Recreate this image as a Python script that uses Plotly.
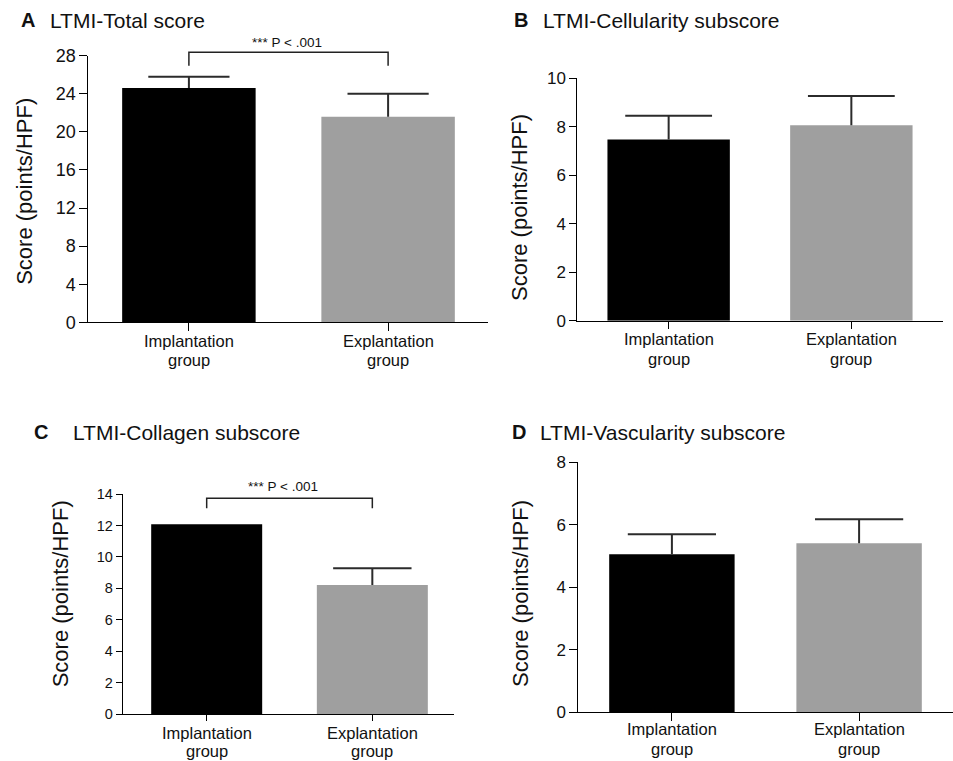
import plotly.graph_objects as go

W, H = 953, 761

# ---------------- data ----------------
groups = ["Implantation", "Explantation"]
group_line2 = ["group", "group"]
bar_colors = ["#000000", "#9f9f9f"]

total_mean = [24.6, 21.6]
total_err = [1.2, 2.4]

cell_mean = [7.48, 8.06]
cell_err = [0.98, 1.21]

coll_mean = [12.07, 8.21]
coll_err = [None, 1.06]

vasc_mean = [5.06, 5.41]
vasc_err = [0.64, 0.77]

panel_letters = ["A", "B", "C", "D"]
panel_titles = ["LTMI-Total score", "LTMI-Cellularity subscore",
                "LTMI-Collagen subscore", "LTMI-Vascularity subscore"]
y_title = "Score (points/HPF)"
sig_text = "*** P < .001"

y_max = [28, 10, 14, 8]
y_dtick = [4, 2, 2, 2]

FONT = "Arial, Liberation Sans, sans-serif"
TXT = "#111111"
ERR_COLOR = "#2b2b2b"


def px_x(p):
    return p / W


def px_y(p):
    return 1 - p / H


# layout geometry (pixels)
panels = [
    dict(mean=total_mean, err=total_err, xd=(88.3, 487.7), yd=(322.3, 55.7),
         xr=[-0.505, 1.5], ticklen=8, tfs=18, cap=58,
         letter=(20, 20.3), title=(49, 20.3), ytitle=(24.5, 191.3),
         cat=(340.5, 360.4)),
    dict(mean=cell_mean, err=cell_err, xd=(577.3, 942.7), yd=(320.7, 78.3),
         xr=[-0.5, 1.5], ticklen=7, tfs=17, cap=62,
         letter=(513.3, 20.3), title=(541.7, 20.3), ytitle=(519.5, 207.5),
         cat=(339.0, 358.9)),
    dict(mean=coll_mean, err=coll_err, xd=(122.7, 454), yd=(714, 494),
         xr=[-0.507, 1.493], ticklen=6, tfs=14.5, cap=56,
         letter=(33.3, 432.2), title=(71.7, 432.2), ytitle=(60, 593.3),
         cat=(732.5, 750.5)),
    dict(mean=vasc_mean, err=vasc_err, xd=(578.3, 952.7), yd=(712.3, 462.3),
         xr=[-0.5, 1.5], ticklen=8, tfs=17, cap=63,
         letter=(510.7, 432.2), title=(539.3, 432.2), ytitle=(520, 594),
         cat=(729.0, 748.6)),
]

fig = go.Figure()
layout = dict(
    width=W, height=H,
    margin=dict(l=0, r=0, t=0, b=0, pad=0, autoexpand=False),
    paper_bgcolor="white", plot_bgcolor="white", showlegend=False,
    font=dict(family=FONT, color=TXT),
    barmode="overlay",
)
annotations = []
shapes = []

for i, p in enumerate(panels):
    n = "" if i == 0 else str(i + 1)
    xa, ya = "x" + n, "y" + n
    means, errs = p["mean"], p["err"]
    fig.add_trace(go.Bar(
        x=[0, 1], y=means, xaxis=xa, yaxis=ya,
        width=0.67, marker=dict(color=bar_colors, line=dict(width=0)),
        hoverinfo="skip",
    ))
    # upper-only error bars: cap marker at mean+err, stem down to the bar top
    tops = [m + e if e is not None else None for m, e in zip(means, errs)]
    fig.add_trace(go.Scatter(
        x=[0, 1], y=tops, xaxis=xa, yaxis=ya, mode="markers",
        marker=dict(symbol="line-ew", size=p["cap"],
                    line=dict(color=ERR_COLOR, width=2)),
        error_y=dict(type="data", symmetric=False,
                     array=[0 if e is not None else None for e in errs],
                     arrayminus=list(errs), color=ERR_COLOR, thickness=2,
                     width=0),
        cliponaxis=False, hoverinfo="skip",
    ))
    layout["xaxis" + n] = dict(
        domain=[px_x(p["xd"][0]), px_x(p["xd"][1])], anchor=ya,
        range=p["xr"], showline=True, linecolor="black", linewidth=1,
        ticks="outside", ticklen=p["ticklen"], tickcolor="black", tickwidth=1,
        tickvals=[0, 1], showticklabels=False, showgrid=False, zeroline=False,
        fixedrange=True, automargin=False,
    )
    layout["yaxis" + n] = dict(
        domain=[px_y(p["yd"][0]), px_y(p["yd"][1])], anchor=xa,
        range=[0, y_max[i]], dtick=y_dtick[i], tick0=0,
        showline=True, linecolor="black", linewidth=1,
        ticks="outside", ticklen=p["ticklen"], tickcolor="black", tickwidth=1,
        tickfont=dict(size=p["tfs"], family=FONT, color=TXT),
        showgrid=False, zeroline=False, fixedrange=True, automargin=False,
    )
    # panel letter + title
    annotations.append(dict(
        text="<b>%s</b>" % panel_letters[i], xref="paper", yref="paper",
        x=px_x(p["letter"][0]), y=px_y(p["letter"][1]),
        xanchor="left", yanchor="middle", showarrow=False, borderpad=0,
        font=dict(size=20, family=FONT, color=TXT)))
    annotations.append(dict(
        text=panel_titles[i], xref="paper", yref="paper",
        x=px_x(p["title"][0]), y=px_y(p["title"][1]),
        xanchor="left", yanchor="middle", showarrow=False, borderpad=0,
        font=dict(size=21, family=FONT, color=TXT)))
    # y axis title
    annotations.append(dict(
        text=y_title, xref="paper", yref="paper", textangle=-90,
        x=px_x(p["ytitle"][0]), y=px_y(p["ytitle"][1]),
        xanchor="center", yanchor="middle", showarrow=False,
        font=dict(size=22, family=FONT, color=TXT)))
    # category labels (two lines each)
    for k in range(2):
        annotations.append(dict(
            text=groups[k], xref=xa, yref="paper", x=k, y=px_y(p["cat"][0]),
            xanchor="center", yanchor="middle", showarrow=False, borderpad=0,
            font=dict(size=16.5, family=FONT, color=TXT)))
        annotations.append(dict(
            text=group_line2[k], xref=xa, yref="paper", x=k, y=px_y(p["cat"][1]),
            xanchor="center", yanchor="middle", showarrow=False, borderpad=0,
            font=dict(size=16.5, family=FONT, color=TXT)))

# significance brackets (panels A and C)
sig_panels = [
    dict(ax="x", top=52.3, bot=65.7, text_y=42.0, text_x=0.49),
    dict(ax="x3", top=498.3, bot=508.3, text_y=486.7, text_x=0.46),
]
for s in sig_panels:
    shapes.append(dict(
        type="path", xref=s["ax"], yref="paper",
        path="M 0,%f L 0,%f L 1,%f L 1,%f" % (px_y(s["bot"]), px_y(s["top"]),
                                               px_y(s["top"]), px_y(s["bot"])),
        line=dict(color="#222222", width=1.5)))
    annotations.append(dict(
        text=sig_text, xref=s["ax"], yref="paper", x=s["text_x"],
        y=px_y(s["text_y"]), xanchor="center", yanchor="middle",
        showarrow=False, font=dict(size=13.5, family=FONT, color=TXT)))

layout["annotations"] = annotations
layout["shapes"] = shapes
fig.update_layout(**layout)
fig.write_html("out.html",
               config={"displayModeBar": False},
               post_script="document.body.style.margin='0px';"
                           "document.body.style.overflow='hidden';")
